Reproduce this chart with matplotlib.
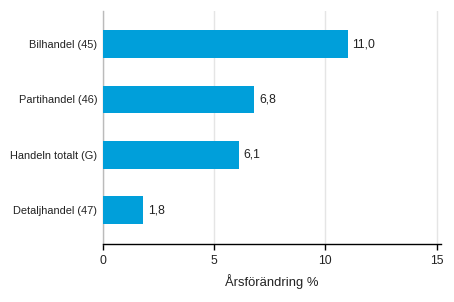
import matplotlib
matplotlib.use("Agg")
import matplotlib.pyplot as plt

categories = ["Detaljhandel (47)", "Handeln totalt (G)", "Partihandel (46)", "Bilhandel (45)"]
values = [1.8, 6.1, 6.8, 11.0]
value_labels = ["1,8", "6,1", "6,8", "11,0"]
xticks = [0, 5, 10, 15]
xlabel = "Årsförändring %"

plt.rcParams['font.family'] = ['Liberation Sans', 'DejaVu Sans']

fig = plt.figure(figsize=(4.54, 3.02), dpi=100)
W, H = 454, 302
left, right, top, bottom = 103, 441, 11, 244
ax = fig.add_axes([left / W, 1 - bottom / H, (right - left) / W, (bottom - top) / H])

ypos = list(range(len(categories)))
ax.barh(ypos, values, height=0.5, color='#009fda', zorder=3)
for y, v, lab in zip(ypos, values, value_labels):
    ax.annotate(lab, (v, y), xytext=(3.5, 0), textcoords='offset points',
                va='center', ha='left', fontsize=8.7, color='#222222')

ax.set_xlim(0, 15.2)
ax.set_ylim(-0.614, 3.6)
ax.set_yticks(ypos)
ax.set_yticklabels(categories, fontsize=7.9, color='#222222')
ax.set_xticks(xticks)
ax.set_xticklabels([str(t) for t in xticks], fontsize=8.7, color='#222222')
ax.tick_params(axis='y', length=0, pad=4)
ax.tick_params(axis='x', length=4, width=1, color='black', pad=4)
ax.set_xlabel(xlabel, fontsize=9.4, labelpad=5, color='#222222')

ax.grid(axis='x', color='#e5e5e5', linewidth=1, zorder=0)
ax.set_axisbelow(True)
for s in ['top', 'right']:
    ax.spines[s].set_visible(False)
ax.spines['left'].set_color('#bbbbbb')
ax.spines['left'].set_linewidth(1)
ax.spines['bottom'].set_color('black')
ax.spines['bottom'].set_linewidth(1)

fig.savefig("out.png", dpi=100)
